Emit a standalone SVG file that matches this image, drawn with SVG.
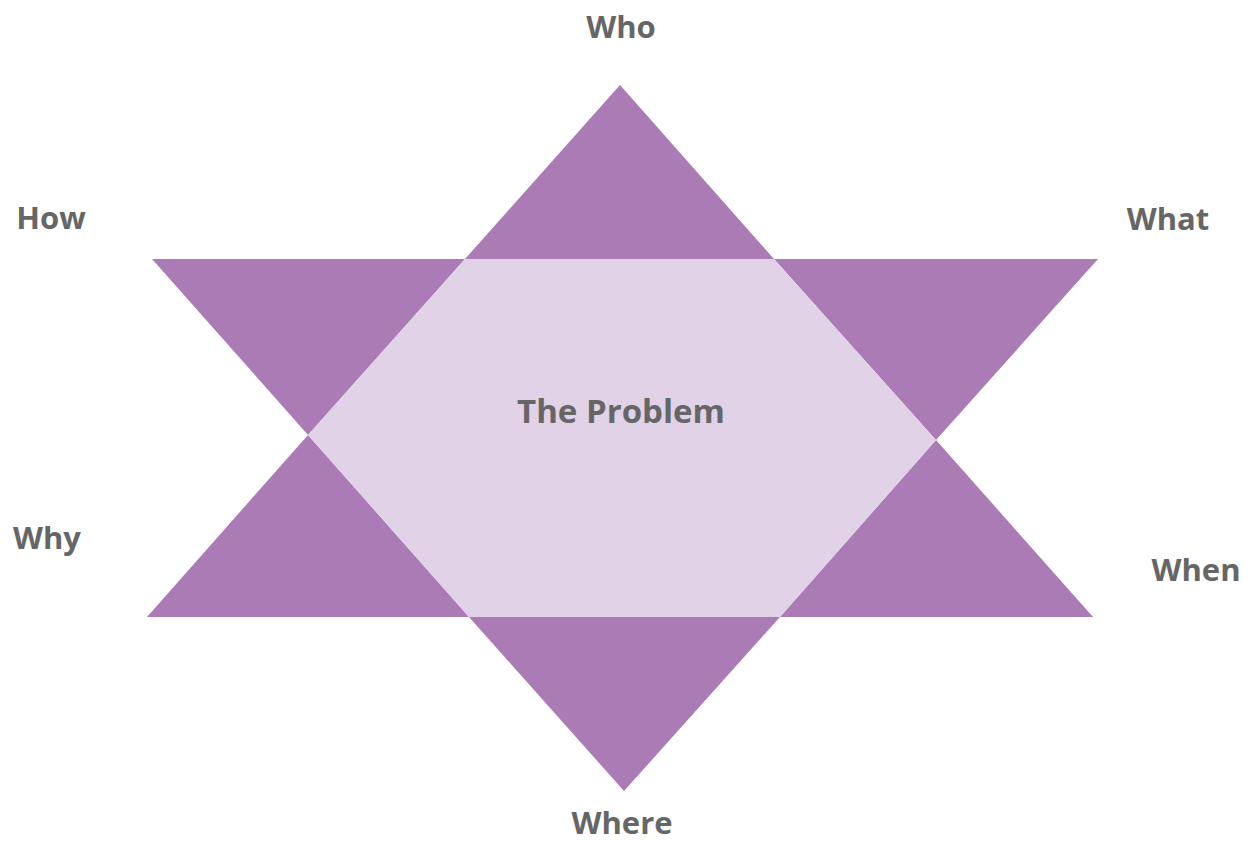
<svg xmlns="http://www.w3.org/2000/svg" width="1255" height="841" viewBox="0 0 1255 841">
<style>
.pt{fill:#AB7BB5;}
.hex{fill:#E1D2E7;}
.lbl{font-family:"Open Sans","Liberation Sans",sans-serif;font-weight:bold;font-size:31px;fill:#666666;text-anchor:middle;}
.ctr{font-size:33px;}
</style>
<rect width="1255" height="841" fill="#ffffff"/>
<g id="who"><polygon class="pt" points="620,85 774,259 465,259"/><text class="lbl" x="621" y="38">Who</text></g>
<g id="what"><polygon class="pt" points="774,259 1098,259 936,440"/><text class="lbl" x="1168" y="230">What</text></g>
<g id="when"><polygon class="pt" points="936,440 1093,617 780,617"/><text class="lbl" x="1196" y="581">When</text></g>
<g id="where"><polygon class="pt" points="469,617 780,617 624,791"/><text class="lbl" x="622" y="834">Where</text></g>
<g id="why"><polygon class="pt" points="308,435 469,617 147,617"/><text class="lbl" x="47" y="549">Why</text></g>
<g id="how"><polygon class="pt" points="152,259 465,259 308,435"/><text class="lbl" x="51" y="229">How</text></g>
<g id="problem"><polygon class="hex" points="465,259 774,259 936,440 780,617 469,617 308,435"/><text class="lbl ctr" x="621" y="423">The Problem</text></g>
<g id="connectors"></g>
</svg>
